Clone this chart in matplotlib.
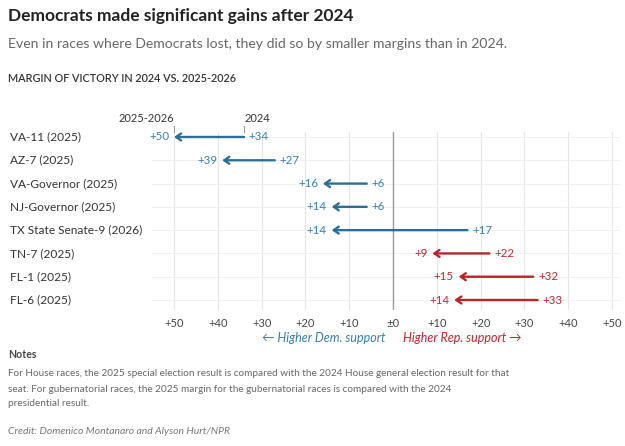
import matplotlib
matplotlib.use("Agg")
import matplotlib.pyplot as plt
from matplotlib import transforms

# ---- data ----
races = ["VA-11 (2025)", "AZ-7 (2025)", "VA-Governor (2025)", "NJ-Governor (2025)",
         "TX State Senate-9 (2026)", "TN-7 (2025)", "FL-1 (2025)", "FL-6 (2025)"]
# signed margins: negative = Democratic margin, positive = Republican margin
margin_2024 = [-34, -27, -6, -6, 17, 22, 32, 33]
margin_2025 = [-50, -39, -16, -14, -14, 9, 15, 14]
tick_values = [-50, -40, -30, -20, -10, 0, 10, 20, 30, 40, 50]
tick_labels = ["+50", "+40", "+30", "+20", "+10", "±0", "+10", "+20", "+30", "+40", "+50"]

BLUE_LINE = "#2c6e98"
BLUE_TXT = "#3a7eac"
RED_LINE = "#b5262b"
RED_TXT = "#c0282d"

plt.rcParams['font.family'] = ['Lato', 'DejaVu Sans']

W, H = 625, 446
fig = plt.figure(figsize=(W / 100, H / 100), dpi=100)

def fy(px):
    return 1 - px / H

def fx(px):
    return px / W

ax_left, ax_right, ax_top, ax_bot = 152, 620, 132, 310
ax = fig.add_axes([fx(ax_left), fy(ax_bot), (ax_right - ax_left) / W, (ax_bot - ax_top) / H])
px_per_unit = 4.38
zero_px = 393
ax.set_xlim((ax_left - zero_px) / px_per_unit, (ax_right - zero_px) / px_per_unit)
row_top, row_sp = 137, 23.3
ax.set_ylim(7 + (ax_bot - 300) / row_sp, -(row_top - ax_top) / row_sp)
for s in ax.spines.values():
    s.set_visible(False)

ax.set_xticks(tick_values)
ax.set_xticklabels(tick_labels, fontsize=8, color="#444")
ax.tick_params(axis='x', length=0, pad=6)
ax.set_yticks([])

# grid
for t in tick_values:
    if t == 0:
        ax.axvline(0, color="#9a9a9a", lw=1.0, zorder=1)
    else:
        ax.axvline(t, color="#e6e6e6", lw=0.8, zorder=0)
for i in range(len(races)):
    ax.axhline(i, color="#f0f0f0", lw=0.7, zorder=0)

label_tr = transforms.blended_transform_factory(fig.transFigure, ax.transData)

for i, (race, a, b) in enumerate(zip(races, margin_2024, margin_2025)):
    dem = b < 0
    lc = BLUE_LINE if dem else RED_LINE
    tc = BLUE_TXT if dem else RED_TXT
    ax.annotate("", xy=(b, i), xytext=(a, i),
                arrowprops=dict(arrowstyle="->,head_length=0.36,head_width=0.25",
                                lw=1.7, color=lc, shrinkA=0, shrinkB=0), zorder=3)
    ax.annotate(f"+{abs(a)}", xy=(a, i), xytext=(3.5, 0), textcoords="offset points",
                ha="left", va="center", fontsize=8.3, color=tc)
    ax.annotate(f"+{abs(b)}", xy=(b, i), xytext=(-3.5, 0), textcoords="offset points",
                ha="right", va="center", fontsize=8.3, color=tc)
    fig.text(fx(10), i, race, transform=label_tr, ha="left", va="center",
             fontsize=8.6, color="#333")

# header labels above first row
hdr_y = -(row_top - 118) / row_sp
tick_top = -(row_top - 126) / row_sp
tick_bot = -(row_top - ax_top) / row_sp
ax.plot([margin_2025[0], margin_2025[0]], [tick_top, tick_bot], color="#999", lw=0.8, clip_on=False)
ax.plot([margin_2024[0], margin_2024[0]], [tick_top, tick_bot], color="#999", lw=0.8, clip_on=False)
ax.text(margin_2025[0], hdr_y, "2025-2026", ha="right", va="center", fontsize=8, color="#333", clip_on=False)
ax.text(margin_2024[0], hdr_y, "2024", ha="left", va="center", fontsize=8, color="#333", clip_on=False)

# direction labels
dir_tr = transforms.blended_transform_factory(ax.transData, fig.transFigure)
fig.text(-1.8, fy(338), "← Higher Dem. support", transform=dir_tr, ha="right", va="center",
         fontsize=9, color=BLUE_TXT, style="italic")
fig.text(2.3, fy(338), "Higher Rep. support →", transform=dir_tr, ha="left", va="center",
         fontsize=9, color=RED_TXT, style="italic")

# titles
fig.text(fx(8), fy(16), "Democrats made significant gains after 2024", ha="left", va="center",
         fontsize=12.5, fontweight="bold", color="#222")
fig.text(fx(8), fy(44), "Even in races where Democrats lost, they did so by smaller margins than in 2024.",
         ha="left", va="center", fontsize=10.1, color="#666")
fig.text(fx(8), fy(79), "MARGIN OF VICTORY IN 2024 VS. 2025-2026", ha="left", va="center",
         fontsize=7.8, color="#333", fontweight="semibold")

# notes
fig.text(fx(8), fy(355), "Notes", ha="left", va="center", fontsize=7.6, fontweight="bold", color="#444")
notes = ["For House races, the 2025 special election result is compared with the 2024 House general election result for that",
         "seat. For gubernatorial races, the 2025 margin for the gubernatorial races is compared with the 2024",
         "presidential result."]
for k, line in enumerate(notes):
    fig.text(fx(8), fy(374 + 15 * k), line, ha="left", va="center", fontsize=7.2, color="#666")
fig.text(fx(8), fy(431), "Credit: Domenico Montanaro and Alyson Hurt/NPR", ha="left", va="center",
         fontsize=7.5, color="#777", style="italic")

fig.savefig("out.png", dpi=100)
